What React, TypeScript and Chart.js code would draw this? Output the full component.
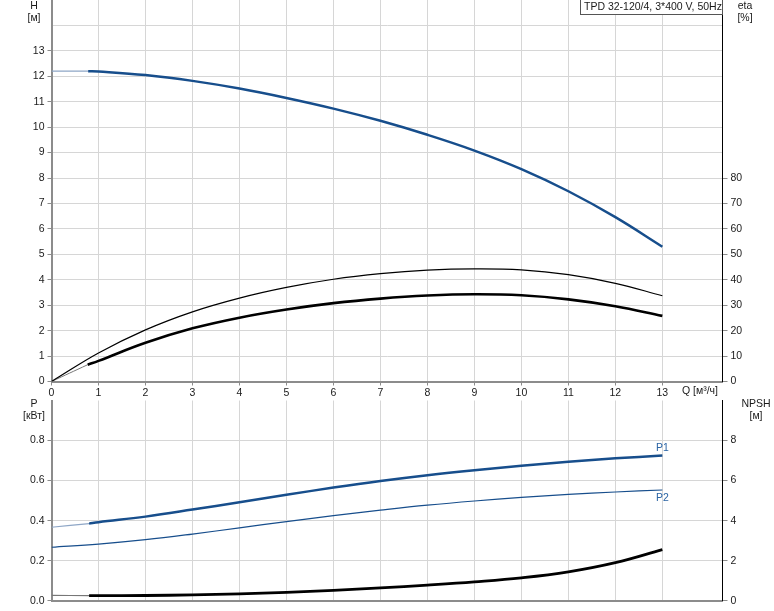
import React, { useEffect, useRef } from "react";
import { Chart, registerables } from "chart.js";
Chart.register(...registerables);

const FONT = "'Liberation Sans', Arial, sans-serif";

// ---- top chart data (Q in m3/h) ----
const qHeadLow = [0, 0.78];
const headLow = [12.2, 12.2];
const qHead = [0.78, 1, 2, 3, 4, 5, 6, 7, 8, 9, 10, 11, 12, 13];
const head = [12.2, 12.19, 12.05, 11.82, 11.52, 11.15, 10.73, 10.25, 9.7, 9.08, 8.35, 7.48, 6.46, 5.3];

const qEtaThin = [0, 1, 2, 3, 4, 5, 6, 7, 8, 9, 10, 11, 12, 13];
const etaThin = [0, 11.2, 20.3, 27.4, 32.8, 37, 40.2, 42.4, 43.8, 44.3, 43.9, 42, 38.6, 33.7];
const qEtaLow = [0, 0.77];
const etaLow = [0, 6.6];
const qEtaThick = [0.77, 1, 2, 3, 4, 5, 6, 7, 8, 9, 10, 11, 12, 13];
const etaThick = [6.6, 8.1, 15.2, 20.9, 25.1, 28.3, 30.8, 32.6, 33.8, 34.3, 33.9, 32.3, 29.6, 25.8];

// ---- bottom chart data ----
const qP1Low = [0, 0.8];
const p1Low = [0.367, 0.385];
const qP1 = [0.8, 1, 2, 3, 4, 5, 6, 7, 8, 9, 10, 11, 12, 13];
const p1 = [0.385, 0.392, 0.42, 0.455, 0.492, 0.529, 0.565, 0.598, 0.627, 0.652, 0.674, 0.694, 0.711, 0.725];
const qP2 = [0, 1, 2, 3, 4, 5, 6, 7, 8, 9, 10, 11, 12, 13];
const p2 = [0.267, 0.283, 0.305, 0.333, 0.364, 0.395, 0.425, 0.452, 0.477, 0.498, 0.516, 0.531, 0.543, 0.553];
const qNpshLow = [0, 0.8];
const npshLow = [0.27, 0.25];
const qNpsh = [0.8, 1, 2, 3, 4, 5, 6, 7, 8, 9, 10, 11, 12, 13];
const npsh = [0.25, 0.25, 0.26, 0.29, 0.34, 0.42, 0.52, 0.64, 0.78, 0.94, 1.14, 1.44, 1.9, 2.55];

const xTickLabels = ["0", "1", "2", "3", "4", "5", "6", "7", "8", "9", "10", "11", "12", "13"];
const hTickLabels = ["0", "1", "2", "3", "4", "5", "6", "7", "8", "9", "10", "11", "12", "13"];
const etaTickLabels = ["0", "10", "20", "30", "40", "50", "60", "70", "80"];
const pTickLabels = ["0.0", "0.2", "0.4", "0.6", "0.8"];
const npshTickLabels = ["0", "2", "4", "6", "8"];

const TITLE = "TPD 32-120/4, 3*400 V, 50Hz";
const X_MAX = 14.28;

const BLUE = "#174e8c";
const BLUE_LIGHT = "#8ea6c6";
const GRID = "#d6d6d6";
const AXIS = "#8c8c8c";
const TEXT = "#1a1a1a";

const pts = (xs: number[], ys: number[]) => xs.map((x, i) => ({ x, y: ys[i] }));

const line = (data: any, color: string, width: number, yAxisID: string) => ({
  data,
  borderColor: color,
  borderWidth: width,
  pointRadius: 0,
  fill: false,
  tension: 0.4,
  yAxisID,
});

const tickFont = { family: FONT, size: 10.5 };

function fixed(w?: number, h?: number) {
  return (scale: any) => {
    if (w !== undefined) scale.width = w;
    if (h !== undefined) scale.height = h;
    scale.paddingTop = 0;
    scale.paddingBottom = 0;
    scale.paddingLeft = 0;
    scale.paddingRight = 0;
  };
}

function idx(v: number, step: number) {
  return Math.round(v / step);
}

const textPlugin = (draw: (ctx: CanvasRenderingContext2D, chart: any) => void) => ({
  id: "texts",
  afterDraw(chart: any) {
    const ctx = chart.ctx;
    ctx.save();
    ctx.font = `10.5px ${FONT}`;
    ctx.fillStyle = TEXT;
    draw(ctx, chart);
    ctx.restore();
  },
});

export default function App() {
  const topRef = useRef<HTMLCanvasElement>(null);
  const botRef = useRef<HTMLCanvasElement>(null);

  useEffect(() => {
    const xScale = (labels: boolean, height: number) => ({
      type: "linear" as const,
      min: 0,
      max: X_MAX,
      afterFit: fixed(undefined, height),
      ticks: {
        stepSize: 1,
        autoSkip: false,
        maxRotation: 0,
        display: labels,
        padding: 1,
        color: TEXT,
        font: tickFont,
        callback: (v: any) => {
          const i = Math.round(v);
          return Math.abs(v - i) < 1e-6 && i < xTickLabels.length ? xTickLabels[i] : "";
        },
      },
      grid: {
        color: (c: any) => (c.tick && c.tick.value > 14.01 ? "transparent" : GRID),
        lineWidth: 1,
        tickLength: labels ? 4 : 0,
        tickColor: (c: any) => (c.tick && c.tick.value <= 14.01 ? AXIS : "transparent"),
      },
      border: { color: AXIS, width: 2 },
    });

    const top = new Chart(topRef.current!, {
      type: "line",
      data: {
        datasets: [
          line(pts(qHead, head), BLUE, 2.5, "h"),
          line(pts(qHeadLow, headLow), BLUE_LIGHT, 1.2, "h"),
          line(pts(qEtaThin, etaThin), "#000", 1.2, "eta"),
          line(pts(qEtaThick, etaThick), "#000", 2.6, "eta"),
          line(pts(qEtaLow, etaLow), "#777", 1, "eta"),
        ] as any,
      },
      options: {
        animation: false,
        responsive: false,
        events: [],
        layout: { padding: 0 },
        plugins: { legend: { display: false }, tooltip: { enabled: false } },
        scales: {
          x: xScale(true, 16.5),
          h: {
            type: "linear",
            position: "left",
            min: 0,
            max: 15,
            afterFit: fixed(51.5),
            ticks: {
              stepSize: 1,
              autoSkip: false,
              padding: 3,
              color: TEXT,
              font: tickFont,
              callback: (v: any) => {
                const i = idx(v, 1);
                return i < hTickLabels.length ? hTickLabels[i] : "";
              },
            },
            grid: {
              color: (c: any) => (c.tick && c.tick.value >= 15 ? "transparent" : GRID),
              lineWidth: 1,
              tickLength: 4,
              tickColor: (c: any) => (c.tick && c.tick.value <= 13 ? AXIS : "transparent"),
            },
            border: { color: AXIS, width: 2 },
          },
          eta: {
            type: "linear",
            position: "right",
            min: 0,
            max: 150,
            afterFit: fixed(51.5),
            ticks: {
              stepSize: 10,
              autoSkip: false,
              padding: 3,
              color: TEXT,
              font: tickFont,
              callback: (v: any) => {
                const i = idx(v, 10);
                return i < etaTickLabels.length ? etaTickLabels[i] : "";
              },
            },
            grid: {
              drawOnChartArea: false,
              tickLength: 5,
              tickColor: (c: any) => (c.tick && c.tick.value <= 80 ? AXIS : "transparent"),
            },
            border: { color: "#000", width: 1 },
          },
        },
      } as any,
      plugins: [
        textPlugin((ctx, chart) => {
          const a = chart.chartArea;
          ctx.textAlign = "center";
          ctx.textBaseline = "middle";
          ctx.fillText("H", 34, 6);
          ctx.fillText("[м]", 34, 18);
          ctx.fillText("eta", 745, 6);
          ctx.fillText("[%]", 745, 18);
          ctx.textAlign = "right";
          ctx.fillText("Q [м³/ч]", 718, a.bottom + 10);
          // title box
          ctx.fillStyle = "#fff";
          ctx.fillRect(580.5, 0, a.right - 580.5, 14.5);
          ctx.strokeStyle = "#555";
          ctx.lineWidth = 1;
          ctx.strokeRect(580.5, -0.5, a.right - 580.5, 15);
          ctx.fillStyle = TEXT;
          ctx.textAlign = "left";
          ctx.fillText(TITLE, 584, 7.5);
        }),
      ],
    });

    const bot = new Chart(botRef.current!, {
      type: "line",
      data: {
        datasets: [
          line(pts(qP1, p1), BLUE, 2.5, "p"),
          line(pts(qP1Low, p1Low), BLUE_LIGHT, 1.2, "p"),
          line(pts(qP2, p2), BLUE, 1.2, "p"),
          line(pts(qNpsh, npsh), "#000", 2.8, "npsh"),
          line(pts(qNpshLow, npshLow), "#777", 1.2, "npsh"),
        ] as any,
      },
      options: {
        animation: false,
        responsive: false,
        events: [],
        layout: { padding: { top: 2.5 } },
        plugins: { legend: { display: false }, tooltip: { enabled: false } },
        scales: {
          x: xScale(false, 10.3),
          p: {
            type: "linear",
            position: "left",
            min: 0,
            max: 1.0,
            afterFit: fixed(51.5),
            ticks: {
              stepSize: 0.2,
              autoSkip: false,
              padding: 3,
              color: TEXT,
              font: tickFont,
              callback: (v: any) => {
                const i = idx(v, 0.2);
                return i < pTickLabels.length ? pTickLabels[i] : "";
              },
            },
            grid: {
              color: (c: any) => (c.tick && c.tick.value >= 0.99 ? "transparent" : GRID),
              lineWidth: 1,
              tickLength: 4,
              tickColor: (c: any) => (c.tick && c.tick.value <= 0.81 ? AXIS : "transparent"),
            },
            border: { color: AXIS, width: 2 },
          },
          npsh: {
            type: "linear",
            position: "right",
            min: 0,
            max: 10,
            afterFit: fixed(51.5),
            ticks: {
              stepSize: 2,
              autoSkip: false,
              padding: 3,
              color: TEXT,
              font: tickFont,
              callback: (v: any) => {
                const i = idx(v, 2);
                return i < npshTickLabels.length ? npshTickLabels[i] : "";
              },
            },
            grid: {
              drawOnChartArea: false,
              tickLength: 5,
              tickColor: (c: any) => (c.tick && c.tick.value <= 8.01 ? AXIS : "transparent"),
            },
            border: { color: "#000", width: 1 },
          },
        },
      } as any,
      plugins: [
        textPlugin((ctx, chart) => {
          ctx.textAlign = "center";
          ctx.textBaseline = "middle";
          ctx.fillText("P", 34, 6);
          ctx.fillText("[кВт]", 34, 18);
          ctx.fillText("NPSH", 756, 6);
          ctx.fillText("[м]", 756, 18);
          const xs = chart.scales.x;
          const ps = chart.scales.p;
          const x13 = xs.getPixelForValue(qP1[qP1.length - 1]);
          ctx.fillStyle = "#2a64a4";
          ctx.fillText("P1", x13, ps.getPixelForValue(p1[p1.length - 1]) - 7);
          ctx.fillText("P2", x13, ps.getPixelForValue(p2[p2.length - 1]) + 8);
        }),
      ],
    });

    return () => {
      top.destroy();
      bot.destroy();
    };
  }, []);

  return (
    <div style={{ position: "absolute", left: 0, top: 0, width: 774, height: 611, background: "#fff" }}>
      <canvas ref={topRef} width={774} height={398} style={{ position: "absolute", left: 0, top: 0, display: "block" }} />
      <canvas ref={botRef} width={774} height={213} style={{ position: "absolute", left: 0, top: 398, display: "block" }} />
    </div>
  );
}
